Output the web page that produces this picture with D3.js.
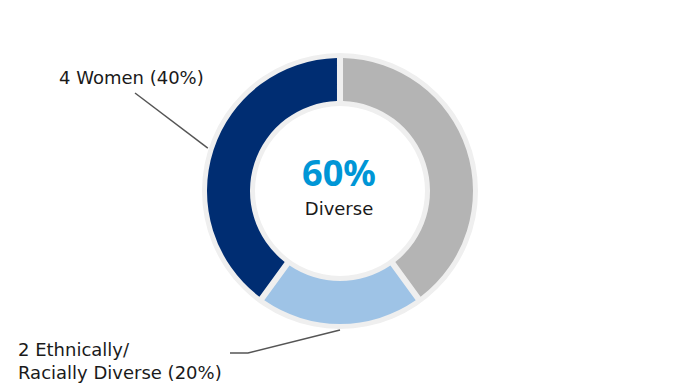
<!DOCTYPE html>
<html>
<head>
<meta charset="utf-8">
<script src="https://cdn.jsdelivr.net/npm/d3@7"></script>
<style>
  body { margin: 0; background: #fff; }
  text { font-family: "DejaVu Sans", sans-serif; }
</style>
</head>
<body>
<script>
// board composition
var categories = ["Not diverse", "Ethnically/Racially Diverse", "Women"];
var counts = [4, 2, 4];
var shares = [40, 20, 40];
var colors = ["#b4b4b4", "#9ec3e6", "#002d72"];
var centerValue = "60%";
var centerLabel = "Diverse";

var width = 680, height = 384;
var cx = 340, cy = 191;

var svg = d3.select("body").append("svg")
  .attr("width", width)
  .attr("height", height);

var g = svg.append("g")
  .attr("transform", "translate(" + cx + "," + cy + ")");

// light ring behind the slices
g.append("path")
  .attr("d", d3.arc().innerRadius(85).outerRadius(138).startAngle(0).endAngle(2 * Math.PI)())
  .attr("fill", "#efefef");

var pie = d3.pie().sort(null).value(d => d);
var arcs = pie(shares);

var arc = d3.arc()
  .innerRadius(90)
  .outerRadius(133)
  .padAngle(0.055)
  .padRadius(110);

g.selectAll("path.slice")
  .data(arcs)
  .enter()
  .append("path")
  .attr("class", "slice")
  .attr("d", arc)
  .attr("fill", (d, i) => colors[i]);

// center text
g.append("text")
  .attr("x", -1)
  .attr("y", -5)
  .attr("text-anchor", "middle")
  .attr("font-size", "35px")
  .attr("font-weight", "bold")
  .attr("fill", "#0096d6")
  .attr("textLength", 74)
  .attr("lengthAdjust", "spacingAndGlyphs")
  .style("font-family", "'Noto Sans', sans-serif")
  .text(centerValue);

g.append("text")
  .attr("x", -1)
  .attr("y", 24)
  .attr("text-anchor", "middle")
  .attr("font-size", "18px")
  .attr("fill", "#1a1a1a")
  .text(centerLabel);

// leader lines and labels
var edge = 139;
function edgePoint(d) {
  var a = (d.startAngle + d.endAngle) / 2;
  return [cx + edge * Math.sin(a), cy - edge * Math.cos(a)];
}

var women = arcs[2];
var wp = edgePoint(women);
svg.append("polyline")
  .attr("points", [wp, [135, 93]].map(p => p.join(",")).join(" "))
  .attr("fill", "none")
  .attr("stroke", "#555")
  .attr("stroke-width", 1.5);

svg.append("text")
  .attr("x", 59)
  .attr("y", 84)
  .attr("font-size", "18px")
  .attr("fill", "#1a1a1a")
  .text(counts[2] + " Women (" + shares[2] + "%)");

var eth = arcs[1];
var ep = edgePoint(eth);
svg.append("polyline")
  .attr("points", [ep, [248, 353], [230, 353]].map(p => p.join(",")).join(" "))
  .attr("fill", "none")
  .attr("stroke", "#555")
  .attr("stroke-width", 1.5);

var ethLabel = svg.append("text")
  .attr("x", 18)
  .attr("y", 356)
  .attr("font-size", "18px")
  .attr("fill", "#1a1a1a");
ethLabel.append("tspan")
  .attr("x", 18)
  .text(counts[1] + " Ethnically/");
ethLabel.append("tspan")
  .attr("x", 18)
  .attr("dy", 23)
  .text("Racially Diverse (" + shares[1] + "%)");
</script>
</body>
</html>
